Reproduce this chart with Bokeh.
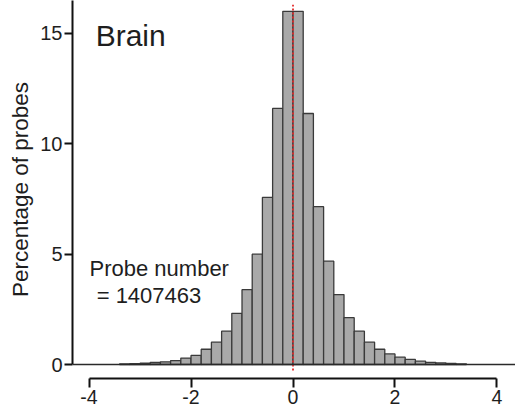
from bokeh.plotting import figure
from bokeh.models import Range1d, Span, Label, FixedTicker
from bokeh.embed import file_html
from bokeh.resources import INLINE

# Histogram bins (log ratio) and percentage of probes per bin
bin_edges = [-3.4, -3.2, -3.0, -2.8, -2.6, -2.4, -2.2, -2.0, -1.8, -1.6, -1.4, -1.2,
             -1.0, -0.8, -0.6, -0.4, -0.2, 0.0, 0.2, 0.4, 0.6, 0.8, 1.0, 1.2, 1.4,
             1.6, 1.8, 2.0, 2.2, 2.4, 2.6, 2.8, 3.0, 3.2, 3.4]
percentages = [0.03, 0.04, 0.06, 0.09, 0.12, 0.18, 0.29, 0.41, 0.69, 1.01, 1.51, 2.32,
               3.39, 5.0, 7.57, 11.6, 16.0, 16.0, 11.37, 7.15, 4.68, 3.17, 2.12, 1.51,
               1.01, 0.69, 0.48, 0.33, 0.23, 0.15, 0.10, 0.07, 0.05, 0.03]

x_ticks = [-4, -2, 0, 2, 4]
x_tick_labels = ["-4", "-2", "0", "2", "4"]
y_ticks = [0, 5, 10, 15]
y_tick_labels = ["0", "5", "10", "15"]
ref_x = 0.0
ref_y_span = (-0.27, 16.3)

title_text = "Brain"
note_line1 = "Probe number"
note_line2 = " = 1407463"
y_label = "Percentage of probes"

FONT = "Liberation Sans"
TXT = "#1e1e1e"

p = figure(width=515, height=416, output_backend="svg", toolbar_location=None,
           x_range=Range1d(-4.324, 4.363), y_range=Range1d(-0.634, 16.49),
           min_border_left=72, min_border_right=0, min_border_top=0,
           min_border_bottom=38)
p.outline_line_color = None
p.grid.visible = False
p.background_fill_color = "white"
p.border_fill_color = "white"

lefts = bin_edges[:-1]
rights = bin_edges[1:]
p.quad(left=lefts, right=rights, bottom=[0] * len(percentages), top=percentages,
       fill_color="#a9a9a9", line_color="#3a3a3a", line_width=1.3)

# baseline
p.add_layout(Span(location=0, dimension="width", line_color="#2a2a2a", line_width=1.5))

# red reference line
p.segment(x0=[ref_x], y0=[ref_y_span[0]], x1=[ref_x], y1=[ref_y_span[1]],
          line_color="#e42a2a", line_width=1.8, line_dash="2 2")

# axes
for ax in (p.xaxis[0], p.yaxis[0]):
    ax.axis_line_width = 2
    ax.axis_line_color = "#111111"
    ax.major_tick_line_width = 2
    ax.major_tick_line_color = "#111111"
    ax.major_tick_in = 0
    ax.minor_tick_line_color = None
    ax.major_label_text_font = FONT
    ax.major_label_text_color = TXT

p.xaxis.ticker = FixedTicker(ticks=x_ticks)
p.xaxis.major_label_overrides = dict(zip(x_ticks, x_tick_labels))
p.xaxis.bounds = (-4, 4)
p.xaxis.major_tick_out = 9
p.xaxis.major_label_standoff = 2
p.xaxis.major_label_text_font_size = "19.5px"

p.yaxis.ticker = FixedTicker(ticks=y_ticks)
p.yaxis.major_label_overrides = dict(zip(y_ticks, y_tick_labels))
p.yaxis.bounds = (0, 16.49)
p.yaxis.major_tick_out = 8
p.yaxis.major_label_standoff = 2
p.yaxis.major_label_text_font_size = "20px"
p.yaxis.axis_label = y_label
p.yaxis.axis_label_text_font = FONT
p.yaxis.axis_label_text_font_size = "22.5px"
p.yaxis.axis_label_text_font_style = "normal"
p.yaxis.axis_label_text_color = TXT
p.yaxis.axis_label_standoff = 4

p.add_layout(Label(x=-3.87, y=14.9, text=title_text, text_font=FONT,
                   text_font_size="30px", text_color=TXT, text_baseline="alphabetic"))
p.add_layout(Label(x=-3.99, y=4.35, text=note_line1, text_font=FONT,
                   text_font_size="22px", text_color=TXT, text_baseline="alphabetic"))
p.add_layout(Label(x=-3.85, y=3.13, text=note_line2, text_font=FONT,
                   text_font_size="22px", text_color=TXT, text_baseline="alphabetic"))

open("out.html", "w").write(file_html(p, INLINE))
